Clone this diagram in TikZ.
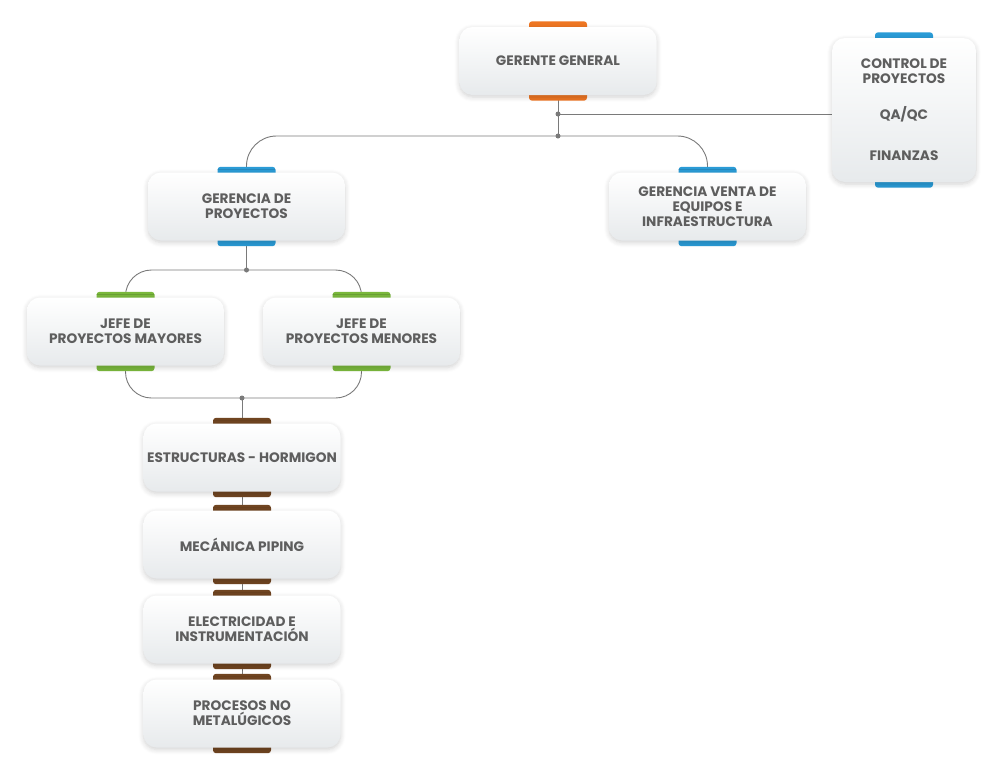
\documentclass[tikz,border=0pt]{standalone}
\usepackage{fontspec}
\setmainfont{Poppins}
\usetikzlibrary{shadows.blur}
\definecolor{txt}{HTML}{5E5E5E}
\definecolor{ln}{HTML}{7A7A7A}
\definecolor{orng}{HTML}{EE7623}
\definecolor{blu}{HTML}{2A9BD6}
\definecolor{grn}{HTML}{7AB83C}
\definecolor{brn}{HTML}{704521}
\definecolor{boxbot}{HTML}{E7EAEC}
\pgfdeclarelayer{bg}\pgfdeclarelayer{tabs}
\pgfsetlayers{bg,tabs,main}
\tikzset{
  box/.style={rounded corners=13pt, top color=white, bottom color=boxbot,
    minimum width=197pt, minimum height=68pt, align=center, text=txt,
    font=\fontsize{13.7}{15}\selectfont\bfseries, inner sep=2pt,
    blur shadow={shadow blur steps=6, shadow xshift=0pt, shadow yshift=-2pt, shadow opacity=18, shadow blur radius=5pt}},
  conn/.style={draw=ln, line width=0.9pt},
  dotn/.style={circle, fill=ln, inner sep=0pt, minimum size=5pt},
  tab/.style={rounded corners=3pt, fill=#1},
}
\newcommand{\tabs}[2]{%
  \begin{pgfonlayer}{tabs}
  \fill[tab=#2] ([xshift=-29pt,yshift=5.5pt]#1.north) rectangle ([xshift=29pt,yshift=-6pt]#1.north);
  \fill[tab=#2] ([xshift=-29pt,yshift=6pt]#1.south) rectangle ([xshift=29pt,yshift=-5.5pt]#1.south);
  \end{pgfonlayer}}
\begin{document}
\begin{tikzpicture}[x=1pt,y=-1pt]
\useasboundingbox (0,0) rectangle (1000,769);
\node[box] (gg) at (558,61) {GERENTE GENERAL};
\node[box, minimum width=144pt, minimum height=144pt] (ctrl) at (904,110)
  {CONTROL DE\\PROYECTOS\\[21pt]QA/QC\\[26pt]FINANZAS};
\node[box] (gp) at (246.5,206.5) {GERENCIA DE\\PROYECTOS};
\node[box] (gv) at (707.5,206.5) {GERENCIA VENTA DE\\EQUIPOS E\\INFRAESTRUCTURA};
\node[box] (jma) at (125.5,331.5) {JEFE DE\\PROYECTOS MAYORES};
\node[box] (jme) at (361.5,331.5) {JEFE DE\\PROYECTOS MENORES};
\node[box] (est) at (242,457.5) {ESTRUCTURAS - HORMIGON};
\node[box] (mec) at (242,544.5) {MECÁNICA PIPING};
\node[box] (ele) at (242,629.5) {ELECTRICIDAD E\\INSTRUMENTACIÓN};
\node[box] (pro) at (242,713.5) {PROCESOS NO\\METALÚGICOS};
\tabs{gg}{orng}
\tabs{ctrl}{blu}
\tabs{gp}{blu}
\tabs{gv}{blu}
\tabs{jma}{grn}
\tabs{jme}{grn}
\tabs{est}{brn}
\tabs{mec}{brn}
\tabs{ele}{brn}
\tabs{pro}{brn}
\node[dotn] (d1) at (gg.south |- 0,114) {};
\node[dotn] (d2) at (gg.south |- 0,136) {};
\node[dotn] (d3) at (gp.south |- 0,270) {};
\node[dotn] (d4) at (est.north |- 0,398) {};
\begin{pgfonlayer}{bg}
\draw[conn] (gg.south) -- (d2.center);
\draw[conn] (d1.center) -- (ctrl.west |- d1.center);
\draw[conn, rounded corners=30pt] (gp.north) |- (d2.center) -| (gv.north);
\draw[conn] (gp.south) -- (d3.center);
\draw[conn, rounded corners=26pt] (jma.north) |- (d3.center) -| (jme.north);
\draw[conn, rounded corners=26pt] (jma.south) |- (d4.center) -| (jme.south);
\draw[conn] (d4.center) -- (est.north);
\draw[conn] (est.south) -- (mec.north);
\draw[conn] (mec.south) -- (ele.north);
\draw[conn] (ele.south) -- (pro.north);
\end{pgfonlayer}
\end{tikzpicture}
\end{document}
